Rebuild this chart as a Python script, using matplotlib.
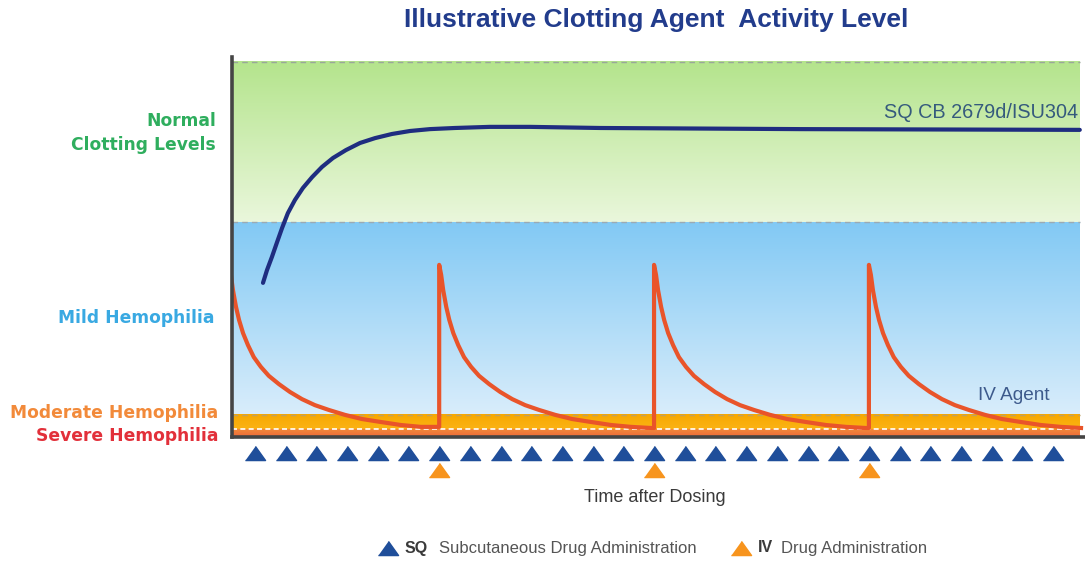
import numpy as np
import matplotlib
matplotlib.use("Agg")
import matplotlib.pyplot as plt
from matplotlib.colors import to_rgb

# ---------------- data ----------------
band_names = ["Severe Hemophilia", "Moderate Hemophilia", "Mild Hemophilia", "Normal\nClotting Levels"]
band_bottoms = [0.0, 2.0, 5.9, 57.3]
band_tops = [2.0, 5.9, 57.3, 100.0]

# subcutaneous doses (days) and IV doses (days)
sq_days = list(range(27))
iv_days = [-0.85, 6, 13, 20]

# IV decay profile after one dose: time since dose (days), level
iv_prof_t = [0.0, 0.065, 0.13, 0.23, 0.33, 0.46, 0.62, 0.81, 1.04, 1.30, 1.63, 1.99,
             2.38, 2.80, 3.26, 3.78, 4.33, 4.95, 5.60, 6.25, 6.91]
iv_prof_y = [45.9, 43.2, 39.2, 34.7, 31.2, 27.7, 24.5, 21.3, 18.7, 16.3, 14.1, 12.0,
             10.1, 8.5, 7.2, 5.9, 4.8, 4.0, 3.2, 2.7, 2.4]

# SQ CB 2679d/ISU304 activity
sq_t = [0.26, 0.39, 0.55, 0.72, 0.88, 1.07, 1.30, 1.56, 1.86, 2.18, 2.54, 2.96, 3.42,
        3.91, 4.46, 5.05, 5.70, 6.51, 7.65, 8.96, 11.24, 17.75, 26.87]
sq_y = [41.1, 44.5, 48.0, 52.0, 55.7, 59.7, 63.2, 66.4, 69.3, 72.0, 74.4, 76.5, 78.4,
        79.7, 80.8, 81.6, 82.1, 82.4, 82.7, 82.7, 82.4, 82.1, 81.9]

x_min, x_max, x_band_end = -0.75, 27.04, 26.87

# ---------------- figure ----------------
W, H = 1085, 565
fig = plt.figure(figsize=(W / 100, H / 100), dpi=100)
ax = fig.add_axes([232 / W, (H - 437) / H, (W - 232) / W, (437 - 57) / H])
ax.set_xlim(x_min, x_max)
ax.set_ylim(0, 101.33)

def grad(ax, y0, y1, c_top, c_bot):
    ct, cb = np.array(to_rgb(c_top)), np.array(to_rgb(c_bot))
    f = np.linspace(0, 1, 200)[:, None]
    img = (ct * (1 - f) + cb * f)[:, None, :]
    ax.imshow(img, extent=[x_min, x_band_end, y0, y1], aspect="auto",
              origin="upper", zorder=0, interpolation="bilinear")

grad(ax, band_bottoms[3], band_tops[3], "#b4e48c", "#eaf7dc")
grad(ax, band_bottoms[2], band_tops[2], "#82c9f4", "#d9edfb")
grad(ax, band_bottoms[1], band_tops[1], "#f7a800", "#fbb315")
grad(ax, band_bottoms[0], band_tops[0], "#f28a3a", "#ee6a3a")

for yv, col in [(band_tops[3], "#9aa79a"), (band_tops[2], "#9aaab4"), (band_tops[1], "#c0a060")]:
    ax.plot([x_min, x_band_end], [yv, yv], ls=(0, (4, 3)), color=col, lw=1.0, zorder=1)
ax.plot([x_min, x_band_end], [band_tops[0], band_tops[0]], ls=(0, (3, 2)), color="white", lw=1.2, zorder=1)

# IV curve
xs, ys = [], []
for i, d in enumerate(iv_days):
    nxt = iv_days[i + 1] if i + 1 < len(iv_days) else None
    last_y = None
    for t, yv in zip(iv_prof_t, iv_prof_y):
        if nxt is not None and d + t >= nxt:
            break
        xs.append(d + t)
        ys.append(yv)
        last_y = yv
    if nxt is not None:
        xs.append(nxt)
        ys.append(last_y)
ax.plot(xs, ys, color="#e9542a", lw=3.0, zorder=3, solid_joinstyle="round")

# SQ curve
ax.plot(sq_t, sq_y, color="#1f2d80", lw=3.0, zorder=4, solid_capstyle="round",
        solid_joinstyle="round")

# dose markers
tri = [(-1, -0.7), (1, -0.7), (0, 0.7)]
ax.plot(sq_days, [-4.27] * len(sq_days), ls="none", marker=tri, ms=14.5,
        color="#1f4e9a", clip_on=False, zorder=5)
ax.plot(iv_days[1:], [-8.8] * len(iv_days[1:]), ls="none", marker=tri, ms=14.5,
        color="#f7941d", clip_on=False, zorder=5)

for s in ["top", "right"]:
    ax.spines[s].set_visible(False)
for s in ["left", "bottom"]:
    ax.spines[s].set_color("#454545")
    ax.spines[s].set_linewidth(2.6)
    ax.spines[s].set_zorder(6)
ax.set_xticks([])
ax.set_yticks([])

fam = ["Liberation Sans", "DejaVu Sans"]
wide = ["DejaVu Sans"]

def ft(x, y, s, **kw):
    fig.text(x / W, 1 - y / H, s, **kw)

ft(656, 20, "Illustrative Clotting Agent  Activity Level", ha="center", va="center",
   fontsize=19, fontweight="bold", color="#223c8c", family=fam)

ft(216, 133, band_names[3], ha="right", va="center", multialignment="right",
   fontsize=12.3, fontweight="bold", color="#2fae5e", family=wide, linespacing=1.5)
ft(214, 318, band_names[2], ha="right", va="center", fontsize=12.3,
   fontweight="bold", color="#39a9e2", family=wide)
ft(218, 413, band_names[1], ha="right", va="center", fontsize=12.3,
   fontweight="bold", color="#f28a3a", family=wide)
ft(218, 436, band_names[0], ha="right", va="center", fontsize=12.3,
   fontweight="bold", color="#e2303a", family=wide)

ft(1078, 112, "SQ CB 2679d/ISU304", ha="right", va="center", fontsize=14.3,
   color="#355a7d", family=fam)
ft(1050, 396, "IV Agent", ha="right", va="center", fontsize=13.7,
   color="#3d5a8c", family=fam)

ft(655, 497, "Time after Dosing", ha="center", va="center", fontsize=13,
   color="#3a3a3a", family=fam)

fig.lines.append(plt.Line2D([388 / W], [1 - 548 / H], transform=fig.transFigure,
                            marker=tri, ms=14.5, color="#1f4e9a", ls="none"))
fig.lines.append(plt.Line2D([741 / W], [1 - 548 / H], transform=fig.transFigure,
                            marker=tri, ms=14.5, color="#f7941d", ls="none"))
ft(405, 548, "SQ", ha="left", va="center", fontsize=11.5, fontweight="bold",
   color="#3a3a3a", family=fam)
ft(439, 548, "Subcutaneous Drug Administration", ha="left", va="center",
   fontsize=12, color="#555555", family=fam)
ft(758, 548, "IV", ha="left", va="center", fontsize=11.5, fontweight="bold",
   color="#3a3a3a", family=fam)
ft(781, 548, "Drug Administration", ha="left", va="center",
   fontsize=12, color="#555555", family=fam)

fig.savefig("out.png", dpi=100, facecolor="white")
